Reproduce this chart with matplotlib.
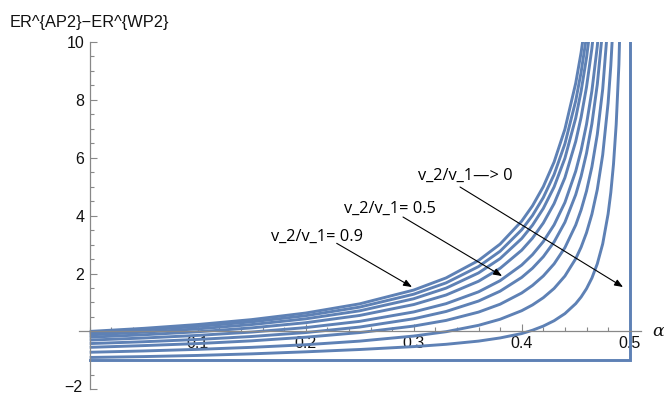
import matplotlib
matplotlib.use("Agg")
import matplotlib.pyplot as plt
from matplotlib.ticker import MultipleLocator, FixedLocator

# ---- data ----
alpha = [0, 0.05, 0.1, 0.15, 0.2, 0.25, 0.3, 0.33, 0.36, 0.38, 0.40, 0.41, 0.42,
         0.43, 0.44, 0.45, 0.455, 0.46, 0.465, 0.47, 0.475, 0.48, 0.4825, 0.485,
         0.4875, 0.49, 0.4925, 0.495]

r09 = [0.000, 0.106, 0.238, 0.408, 0.635, 0.953, 1.429, 1.849, 2.450, 3.017, 3.811,
       4.340, 5.002, 5.853, 6.987, 8.575, 9.634, 10.957]
r08 = [-0.050, 0.049, 0.172, 0.331, 0.543, 0.840, 1.286, 1.678, 2.240, 2.770, 3.512,
       4.007, 4.625, 5.421, 6.481, 7.965, 8.955, 10.192]
r07 = [-0.120, -0.027, 0.088, 0.237, 0.435, 0.712, 1.129, 1.496, 2.020, 2.516, 3.209,
       3.671, 4.249, 4.992, 5.983, 7.370, 8.295, 9.451, 10.936]
r06 = [-0.200, -0.116, -0.012, 0.122, 0.301, 0.552, 0.928, 1.259, 1.733, 2.180, 2.806,
       3.223, 3.745, 4.416, 5.311, 6.563, 7.398, 8.442, 9.783, 11.572]
r05 = [-0.300, -0.228, -0.138, -0.022, 0.132, 0.348, 0.673, 0.959, 1.367, 1.753, 2.293,
       2.653, 3.103, 3.682, 4.454, 5.534, 6.254, 7.155, 8.312, 9.855, 12.016]
r04 = [-0.420, -0.357, -0.278, -0.175, -0.039, 0.151, 0.437, 0.689, 1.049, 1.390, 1.866,
       2.184, 2.581, 3.091, 3.771, 4.724, 5.359, 6.153, 7.174, 8.535, 10.440]
r03 = [-0.550, -0.490, -0.420, -0.325, -0.200, -0.040, 0.185, 0.380, 0.667, 0.940, 1.328,
       1.589, 1.915, 2.334, 2.893, 3.675, 4.197, 4.849, 5.687, 6.804, 8.369, 10.716]
r02 = [-0.720, -0.675, -0.620, -0.550, -0.460, -0.335, -0.160, -0.010, 0.210, 0.420, 0.716,
       0.915, 1.165, 1.485, 1.913, 2.511, 2.910, 3.409, 4.050, 4.904, 6.101, 7.896,
       9.178, 10.888]
r01 = [-0.900, -0.870, -0.830, -0.775, -0.705, -0.625, -0.525, -0.445, -0.335, -0.225, -0.074,
       0.041, 0.184, 0.369, 0.615, 0.959, 1.189, 1.476, 1.844, 2.336, 3.025, 4.058,
       4.796, 5.780, 7.157, 9.223, 12.666]
limit_x = [0, 0.5, 0.5]
limit_y = [-1, -1, 10.5]

curves = [r09, r08, r07, r06, r05, r04, r03, r02, r01]

labels = ["v_2/v_1= 0.9", "v_2/v_1= 0.5", "v_2/v_1\u2014> 0"]
label_pos = [(0.2102, 3.26), (0.278, 4.23), (0.3475, 5.37)]
arrow_from = [(0.2287, 3.044), (0.2901, 3.953), (0.3429, 4.990)]
arrow_to = [(0.2984, 1.534), (0.3818, 1.914), (0.4938, 1.534)]

xticks = [0.1, 0.2, 0.3, 0.4, 0.5]
yticks = [-2, 2, 4, 6, 8, 10]

# ---- figure ----
W, H = 664, 394
fig = plt.figure(figsize=(W / 100, H / 100), dpi=100)
ax = fig.add_axes([78.9 / W, 4.7 / H, (640.5 - 78.9) / W, (389.3 - 42.0) / H])
ax.set_xlim(-0.01, 0.51)
ax.set_ylim(-2, 10)

color = "#5e81b5"
for c in curves:
    ax.plot(alpha[:len(c)], c, color=color, lw=2.1, solid_capstyle="butt", clip_on=True)
ax.plot(limit_x, limit_y, color=color, lw=2.1, solid_joinstyle="miter", clip_on=True)

for s in ["top", "right"]:
    ax.spines[s].set_visible(False)
ax.spines["left"].set_position(("data", 0))
ax.spines["bottom"].set_position(("data", 0))
for s in ["left", "bottom"]:
    ax.spines[s].set_color("#888888")
    ax.spines[s].set_linewidth(0.9)
ax.spines["left"].set_bounds(-2, 10)

ax.xaxis.set_major_locator(FixedLocator(xticks))
ax.xaxis.set_minor_locator(MultipleLocator(0.02))
ax.yaxis.set_major_locator(FixedLocator(yticks))
ax.yaxis.set_minor_locator(MultipleLocator(0.5))
ax.set_xticklabels([f"{v:g}" for v in xticks])
ax.set_yticklabels(["" if v < 0 else f"{v:g}" for v in yticks])
ax.tick_params(which="both", direction="in", color="#888888", width=0.8)
ax.tick_params(which="major", length=5)
ax.tick_params(which="minor", length=3)
ax.tick_params(axis="both", labelsize=11.5, labelcolor="#111111")
ax.tick_params(axis="x", pad=3)
ax.tick_params(axis="y", pad=4)
for lab in ax.get_xticklabels() + ax.get_yticklabels():
    lab.set_fontfamily("Liberation Sans")
# the -2 label sits at the very bottom edge; nudge it up slightly so it stays visible
ax.annotate("\u22122", xy=(0, yticks[0]), xytext=(-5.5, 1.2), textcoords="offset points",
            ha="right", va="center", fontsize=11.5, family="Liberation Sans",
            color="#111111", annotation_clip=False)

fig.text(10 / W, 1 - 23 / H, "ER^{AP2}\u2212ER^{WP2}", fontsize=11.8, family="Liberation Sans",
         color="#111111", ha="left", va="center")
fig.text(652 / W, 1 - 332 / H, "\u03b1", fontsize=12.5, style="italic", family="DejaVu Serif",
         color="#111111", ha="left", va="center")

for t, p in zip(labels, label_pos):
    ax.text(p[0], p[1], t, fontsize=11.8, family="Open Sans", ha="center", va="center", color="black")
for a, b in zip(arrow_from, arrow_to):
    ax.annotate("", xy=b, xytext=a,
                arrowprops=dict(arrowstyle="-|>,head_length=0.5,head_width=0.2", color="black",
                                lw=0.8, shrinkA=0, shrinkB=0))

fig.savefig("out.png", dpi=100)
